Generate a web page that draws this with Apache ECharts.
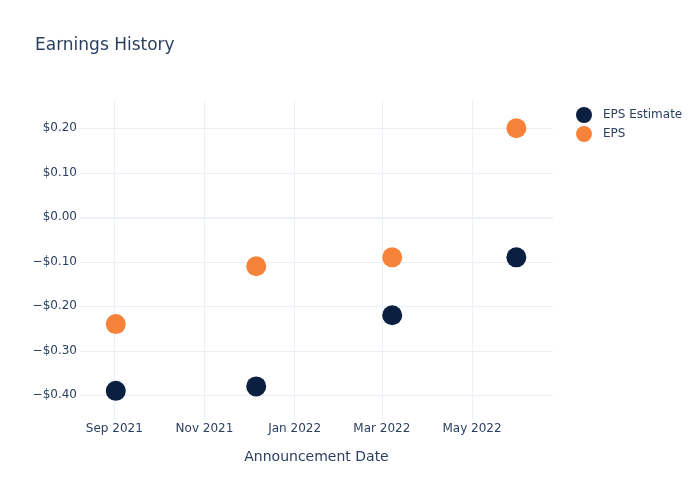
<!DOCTYPE html>
<html>
<head>
<meta charset="utf-8">
<script src="https://cdn.jsdelivr.net/npm/echarts@6/dist/echarts.min.js"></script>
<style>html,body{margin:0;padding:0;background:#fff;}#c{width:700px;height:500px;}</style>
</head>
<body>
<div id="c"></div>
<script>
const announcementDates = ['2021-09-02', '2021-12-06', '2022-03-08', '2022-05-31'];
const epsEstimate = [-0.39, -0.38, -0.22, -0.09];
const epsActual = [-0.24, -0.11, -0.09, 0.20];
const xTickDates = ['2021-09-01', '2021-11-01', '2022-01-01', '2022-03-01', '2022-05-01'];
const xTickLabels = ['Sep 2021', 'Nov 2021', 'Jan 2022', 'Mar 2022', 'May 2022'];

const toMs = s => { const p = s.split('-').map(Number); return Date.UTC(p[0], p[1] - 1, p[2]); };
const xMin = Date.UTC(2021, 7, 8, 19);
const xMax = Date.UTC(2022, 5, 24, 19);
const xTicksMs = xTickDates.map(toMs);

const font = 'DejaVu Sans, Verdana, sans-serif';
const txt = '#2a3f5f';
const gridColor = '#ebf0f8';

function fmtMoney(v) {
  const a = Math.abs(v).toFixed(2);
  if (Math.abs(v) < 1e-9) return '$0.00';
  return (v < 0 ? '\u2212$' : '$') + a;
}

const chart = echarts.init(document.getElementById('c'), null, {renderer: 'canvas'});
chart.setOption({
  backgroundColor: '#fff',
  animation: false,
  textStyle: {fontFamily: font},
  title: {
    text: 'Earnings History', left: 30, top: 32,
    textStyle: {fontFamily: font, fontSize: 17, fontWeight: 'normal', color: txt}
  },
  legend: {
    orient: 'vertical', left: 571, top: 102, itemGap: 3, itemWidth: 16, itemHeight: 16,
    icon: 'circle',
    textStyle: {fontFamily: font, fontSize: 12, color: txt, padding: [0, 0, 0, 6]},
    data: ['EPS Estimate', 'EPS']
  },
  grid: [
    {left: 80, right: 147, top: 128.3, bottom: 104.7},
    {left: 80, right: 147, top: 100, bottom: 80}
  ],
  xAxis: [
    {type: 'value', gridIndex: 0, min: xMin, max: xMax, show: false},
    {
      type: 'value', gridIndex: 1, min: xMin, max: xMax,
      name: 'Announcement Date', nameLocation: 'middle', nameGap: 30,
      nameTextStyle: {fontFamily: font, fontSize: 14, color: txt},
      axisLine: {show: false},
      axisTick: {show: false, customValues: xTicksMs},
      axisLabel: {
        customValues: xTicksMs, margin: 3, fontFamily: font, fontSize: 12, color: txt,
        formatter: v => { const i = xTicksMs.indexOf(v); return i >= 0 ? xTickLabels[i] : ''; }
      },
      splitLine: {show: true, lineStyle: {color: gridColor, width: 1}}
    }
  ],
  yAxis: [
    {
      type: 'value', gridIndex: 0, min: -0.4, max: 0.2, interval: 0.1,
      axisLine: {show: false}, axisTick: {show: false},
      axisLabel: {margin: 3, fontFamily: font, fontSize: 12, color: txt, formatter: fmtMoney},
      splitLine: {show: true, lineStyle: {color: gridColor, width: 1}}
    },
    {type: 'value', gridIndex: 1, min: 0, max: 1, show: false, splitLine: {show: false}}
  ],
  series: [
    {
      name: 'EPS Estimate', type: 'scatter', xAxisIndex: 0, yAxisIndex: 0,
      symbolSize: 20, clip: false,
      itemStyle: {color: '#0b1f41', opacity: 1},
      data: announcementDates.map((d, i) => [toMs(d), epsEstimate[i]]),
      markLine: {
        silent: true, symbol: 'none', label: {show: false},
        lineStyle: {color: gridColor, width: 2, type: 'solid'},
        data: [{yAxis: 0}], z: 0
      },
      z: 3
    },
    {
      name: 'EPS', type: 'scatter', xAxisIndex: 0, yAxisIndex: 0,
      symbolSize: 20, clip: false,
      itemStyle: {color: '#f7823a', opacity: 1},
      data: announcementDates.map((d, i) => [toMs(d), epsActual[i]]),
      z: 4
    }
  ]
});
</script>
</body>
</html>
